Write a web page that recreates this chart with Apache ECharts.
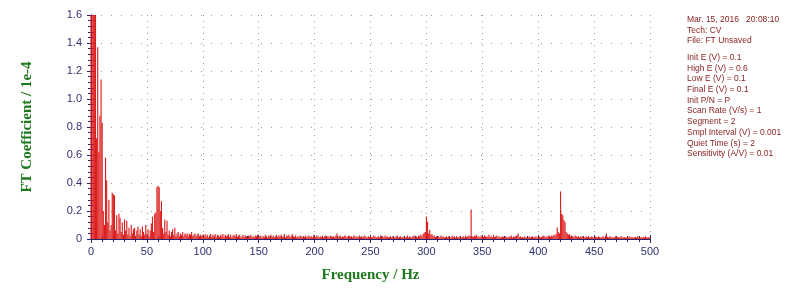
<!DOCTYPE html>
<html>
<head>
<meta charset="utf-8">
<script src="https://cdn.jsdelivr.net/npm/echarts@6/dist/echarts.min.js"></script>
<style>
html,body{margin:0;padding:0;background:#fff;}
#chart{width:800px;height:296px;}
</style>
</head>
<body>
<div id="chart"></div>
<script>
// Frequency grid (Hz) starts at 0 with 1 Hz resolution; coefficients in units of 1e-4
const freqStart = 0;
const freqStep = 1;
const ftCoefficient = [
  2.6, 2.3, 2.0, 1.85, 1.7, 0.72, 1.37, 0.62, 0.88, 1.14,
  0.83, 0.2, 0.1, 0.58, 0.42, 0.12, 0.28, 0.06, 0.1, 0.33,
  0.32, 0.31, 0.06, 0.17, 0.04, 0.18, 0.15, 0.05, 0.12, 0.03,
  0.14, 0.06, 0.13, 0.03, 0.08, 0.02, 0.1, 0.04, 0.07, 0.08,
  0.02, 0.06, 0.09, 0.03, 0.07, 0.02, 0.09, 0.05, 0.03, 0.1,
  0.04, 0.07, 0.02, 0.06, 0.11, 0.16, 0.05, 0.18, 0.19, 0.37,
  0.38, 0.37, 0.2, 0.27, 0.08, 0.04, 0.14, 0.05, 0.13, 0.03,
  0.06, 0.02, 0.05, 0.07, 0.03, 0.08, 0.02, 0.04, 0.05, 0.02,
  0.04, 0.03, 0.05, 0.02, 0.04, 0.03, 0.04, 0.02, 0.04, 0.03,
  0.05, 0.02, 0.03, 0.04, 0.02, 0.03, 0.04, 0.02, 0.03, 0.02,
  .03,.015,.035,.02,.03,.01,.025,.035,.015,.03,
  .02,.035,.01,.03,.025,.015,.03,.02,.035,.01,
  .03,.02,.025,.035,.015,.03,.01,.025,.03,.02,
  .035,.015,.025,.03,.01,.02,.03,.015,.025,.02,
  .01,.025,.02,.03,.015,.02,.01,.025,.02,.03,
  .015,.02,.025,.01,.02,.015,.03,.02,.01,.025,
  .02,.03,.015,.025,.01,.02,.03,.015,.025,.02,
  .03,.015,.02,.035,.01,.025,.02,.03,.015,.02,
  .035,.02,.015,.025,.01,.02,.015,.025,.02,.01,
  .02,.015,.025,.01,.02,.025,.015,.02,.01,.025,
  .02,.015,.025,.02,.01,.02,.015,.025,.01,.02,
  .025,.015,.02,.01,.025,.02,.015,.02,.01,.025,
  .04,.015,.02,.025,.01,.02,.015,.025,.02,.01,
  .02,.025,.015,.02,.01,.025,.02,.015,.02,.01,
  .025,.015,.02,.01,.02,.025,.015,.01,.02,.015,
  .02,.01,.015,.025,.02,.01,.015,.02,.01,.025,
  .015,.02,.01,.025,.015,.02,.01,.015,.02,.01,
  .02,.015,.01,.02,.025,.01,.015,.02,.01,.015,
  .02,.01,.015,.025,.01,.02,.015,.01,.02,.025,
  .015,.02,.01,.025,.02,.03,.02,.035,.045,.05,
  .16,.124,.04,.064,.03,.035,.02,.025,.015,.02,
  .015,.02,.01,.025,.015,.02,.01,.015,.02,.01,
  .02,.015,.01,.025,.015,.02,.01,.02,.015,.01,
  .02,.01,.015,.02,.01,.025,.015,.02,.025,.02,
  .21,.02,.015,.025,.02,.03,.015,.02,.01,.025,
  .02,.015,.025,.02,.015,.02,.03,.015,.02,.01,
  .03,.015,.02,.025,.01,.02,.015,.01,.02,.015,
  .01,.02,.015,.01,.02,.015,.025,.01,.02,.015,
  .02,.025,.04,.015,.02,.01,.015,.01,.02,.01,
  .015,.01,.02,.01,.015,.02,.01,.015,.02,.01,
  .015,.02,.01,.015,.02,.025,.015,.02,.01,.025,
  .02,.015,.025,.02,.03,.025,.035,.083,.05,.04,
  .34,.18,.17,.135,.12,.05,.04,.03,.035,.02,
  .025,.02,.015,.025,.02,.015,.02,.01,.02,.015,
  .02,.015,.01,.02,.015,.02,.01,.015,.02,.015,
  .01,.02,.015,.01,.02,.015,.01,.015,.02,.01,
  .015,.04,.015,.01,.02,.015,.01,.015,.01,.02,
  .015,.01,.015,.01,.02,.015,.01,.015,.01,.01,
  .015,.01,.02,.01,.015,.01,.01,.015,.01,.02,
  .01,.015,.01,.01,.015,.01,.02,.01,.01,.015,
  .01
];
const infoLines = [
  'Mar. 15, 2016   20:08:10',
  'Tech: CV',
  'File: FT Unsaved',
  '',
  'Init E (V) = 0.1',
  'High E (V) = 0.6',
  'Low E (V) = 0.1',
  'Final E (V) = 0.1',
  'Init P/N = P',
  'Scan Rate (V/s) = 1',
  'Segment = 2',
  'Smpl Interval (V) = 0.001',
  'Quiet Time (s) = 2',
  'Sensitivity (A/V) = 0.01'
];
const xTitle = 'Frequency / Hz';
const yTitle = 'FT Coefficient / 1e-4';

const seriesData = ftCoefficient.map((v, i) => [freqStart + i * freqStep, v]);

const navy = '#26266e';
const green = '#1f7a1f';
const dotted = {show: true, lineStyle: {color: '#9a9a9a', type: [1, 9], width: 1}};
const dottedV = {show: true, lineStyle: {color: '#9a9a9a', type: [1, 5], width: 1}};

const infoGraphics = [];
let yy = 15;
infoLines.forEach((t, i) => {
  if (t === '') { yy += 6; return; }
  infoGraphics.push({
    type: 'text', left: 687, top: yy,
    style: {text: t, fill: '#8b2323', font: '8.5px "Liberation Sans", Arial, sans-serif'}
  });
  yy += 10.7;
});

const chart = echarts.init(document.getElementById('chart'), null, {renderer: 'canvas'});
chart.setOption({
  backgroundColor: '#ffffff',
  animation: false,
  grid: {left: 91, right: 150, top: 15, bottom: 57, containLabel: false},
  xAxis: [{
    type: 'value', min: 0, max: 500, interval: 50, position: 'bottom',
    axisLine: {show: true, lineStyle: {color: navy, width: 1}},
    axisTick: {show: true, inside: false, length: 4, lineStyle: {color: navy}},
    minorTick: {show: true, splitNumber: 5, length: 3, lineStyle: {color: navy}},
    axisLabel: {color: '#303070', fontSize: 11, fontFamily: '"Liberation Sans", Arial, sans-serif', margin: 7},
    splitLine: dottedV,
    name: xTitle, nameLocation: 'middle', nameGap: 29,
    nameTextStyle: {color: green, fontSize: 15, fontWeight: 'bold', fontFamily: '"Liberation Serif", "Times New Roman", serif'}
  }, {
    type: 'value', min: 0, max: 500, interval: 50, position: 'top',
    axisLine: {show: true, lineStyle: {color: navy, width: 1}},
    axisTick: {show: true, inside: false, length: 4, lineStyle: {color: navy}},
    minorTick: {show: true, splitNumber: 5, length: 3, lineStyle: {color: navy}},
    axisLabel: {show: false}, splitLine: {show: false}
  }],
  yAxis: [{
    type: 'value', min: 0, max: 1.6, interval: 0.2, position: 'left',
    axisLine: {show: true, lineStyle: {color: navy, width: 1}},
    axisTick: {show: true, inside: false, length: 4, lineStyle: {color: navy}},
    minorTick: {show: true, splitNumber: 5, length: 3, lineStyle: {color: navy}},
    axisLabel: {color: '#303070', fontSize: 11, fontFamily: '"Liberation Sans", Arial, sans-serif', margin: 9,
      formatter: v => v === 0 ? '0' : v.toFixed(1)},
    splitLine: dotted,
    name: yTitle, nameLocation: 'middle', nameGap: 56, nameRotate: 90,
    nameTextStyle: {color: green, fontSize: 15, fontWeight: 'bold', fontFamily: '"Liberation Serif", "Times New Roman", serif'}
  }, {
    type: 'value', min: 0, max: 1.6, interval: 0.2, position: 'right',
    axisLine: {show: true, lineStyle: {color: navy, width: 1}},
    axisTick: {show: true, inside: false, length: 4, lineStyle: {color: navy}},
    minorTick: {show: true, splitNumber: 5, length: 3, lineStyle: {color: navy}},
    axisLabel: {show: false}, splitLine: {show: false}
  }],
  series: [{
    type: 'bar', xAxisIndex: 0, yAxisIndex: 0,
    data: seriesData, clip: true, barWidth: 1.15,
    itemStyle: {color: '#dc1e1e'},
    emphasis: {disabled: true}
  }],
  graphic: infoGraphics
});
</script>
</body>
</html>
